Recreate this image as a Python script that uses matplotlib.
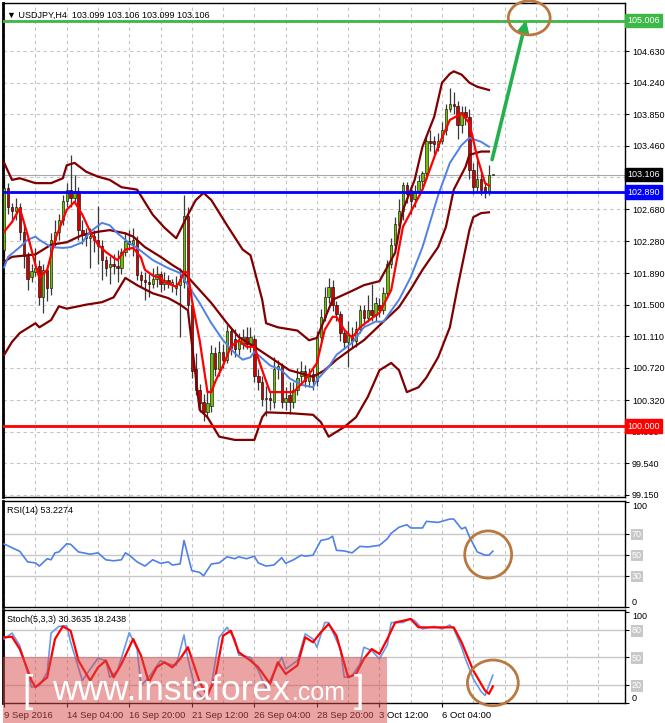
import numpy as np
import matplotlib.pyplot as plt
from matplotlib.patches import Ellipse, Rectangle

plt.rcParams['font.family'] = ['Liberation Sans', 'DejaVu Sans']

# USDJPY H4 candles
opens = [102.18, 102.94, 102.70, 102.66, 102.70, 102.40, 102.10, 101.84, 101.90, 101.98,
         101.60, 101.93, 101.70, 102.30, 102.40, 102.55, 102.78, 102.92, 102.82, 102.90,
         102.42, 102.36, 102.32, 102.35, 102.30, 102.22, 102.05, 101.97, 102.00, 101.98,
         101.95, 102.15, 102.28, 102.25, 102.30, 101.86, 101.80, 101.78, 101.75, 101.82,
         101.88, 101.76, 101.80, 101.74, 101.70, 101.74, 101.78, 102.60, 101.50, 100.70,
         100.45, 100.30, 100.18, 100.25, 100.90, 100.70, 100.92, 100.82, 101.18, 101.08,
         100.95, 101.02, 101.10, 101.02, 101.08, 100.62, 100.55, 100.33, 100.35, 100.30,
         100.70, 100.74, 100.30, 100.38, 100.30, 100.45, 100.62, 100.68, 100.56, 100.64,
         100.56, 101.10, 101.35, 101.60, 101.72, 101.50, 101.38, 101.15, 101.04, 101.12,
         101.05, 101.20, 101.43, 101.33, 101.43, 101.37, 101.50, 101.43, 101.64, 102.00,
         102.24, 102.48, 102.65, 102.98, 102.92, 102.80, 102.90, 103.03, 103.12, 103.52,
         103.52, 103.45, 103.52, 103.65, 103.92, 103.98, 103.95, 103.72, 103.88, 103.82,
         103.16, 102.95, 103.05, 102.95, 102.90, 103.099]
highs = [103.06, 103.00, 102.75, 102.82, 102.75, 102.50, 102.15, 102.00, 102.20, 102.05,
         102.00, 101.98, 102.38, 102.55, 102.62, 102.85, 103.00, 103.35, 103.10, 102.95,
         102.55, 102.45, 102.45, 102.42, 102.72, 102.30, 102.10, 102.10, 102.12, 102.18,
         102.20, 102.40, 102.42, 102.45, 102.35, 101.92, 101.90, 101.88, 101.95, 101.98,
         101.92, 101.90, 101.86, 101.82, 101.85, 101.95, 102.85, 102.70, 101.55, 100.90,
         100.52, 100.40, 100.45, 101.00, 100.98, 101.05, 101.02, 101.25, 101.22, 101.20,
         101.15, 101.20, 101.22, 101.22, 101.12, 100.70, 100.62, 100.50, 100.42, 100.85,
         100.82, 100.78, 100.48, 100.55, 100.55, 100.72, 100.80, 100.75, 100.72, 100.70,
         101.18, 101.45, 101.72, 101.83, 101.80, 101.55, 101.42, 101.20, 101.30, 101.22,
         101.30, 101.50, 101.50, 101.62, 101.75, 101.60, 101.58, 101.72, 102.05, 102.32,
         102.58, 102.80, 103.02, 103.02, 102.98, 102.98, 103.10, 103.15, 103.60, 103.66,
         103.58, 103.62, 103.75, 103.98, 104.17, 104.12, 104.02, 103.95, 103.95, 103.92,
         103.25, 103.28, 103.12, 103.00, 103.22, 103.106]
lows = [102.09, 102.62, 102.52, 102.55, 102.30, 101.95, 101.68, 101.78, 101.85, 101.50,
        101.40, 101.55, 101.62, 102.22, 102.30, 102.48, 102.70, 102.70, 102.75, 102.30,
        102.25, 102.22, 101.95, 102.15, 102.00, 101.80, 101.85, 101.75, 101.88, 101.78,
        101.88, 102.10, 102.18, 102.10, 101.80, 101.72, 101.56, 101.60, 101.70, 101.72,
        101.65, 101.68, 101.70, 101.65, 101.62, 101.10, 101.70, 101.45, 100.60, 100.38,
        100.18, 100.06, 100.10, 100.18, 100.62, 100.62, 100.72, 100.78, 100.88, 100.85,
        100.88, 100.95, 100.95, 100.92, 100.55, 100.45, 100.25, 100.12, 100.20, 100.22,
        100.58, 100.22, 100.20, 100.15, 100.22, 100.38, 100.55, 100.48, 100.48, 100.45,
        100.50, 101.05, 101.30, 101.52, 101.42, 101.30, 101.05, 100.95, 100.73, 100.98,
        100.98, 101.15, 101.25, 101.28, 101.30, 101.30, 101.35, 101.38, 101.58, 101.95,
        102.18, 102.40, 102.55, 102.75, 102.62, 102.70, 102.85, 102.92, 103.05, 103.40,
        103.35, 103.40, 103.48, 103.60, 103.88, 103.85, 103.55, 103.62, 103.72, 103.05,
        102.86, 102.90, 102.85, 102.82, 102.85, 103.099]
closes = [102.94, 102.70, 102.66, 102.70, 102.40, 102.10, 101.82, 101.91, 101.95, 101.60,
          101.93, 101.70, 102.30, 102.40, 102.55, 102.78, 102.92, 102.82, 102.90, 102.42,
          102.36, 102.32, 102.35, 102.30, 102.22, 102.05, 101.95, 102.00, 101.98, 101.95,
          102.15, 102.28, 102.25, 102.30, 101.86, 101.80, 101.78, 101.75, 101.82, 101.88,
          101.76, 101.80, 101.76, 101.78, 101.74, 101.82, 102.60, 101.50, 100.68, 100.45,
          100.28, 100.18, 100.28, 100.90, 100.70, 100.92, 100.82, 101.18, 100.96, 100.95,
          101.05, 101.10, 101.02, 101.10, 100.62, 100.55, 100.33, 100.35, 100.32, 100.70,
          100.74, 100.30, 100.35, 100.30, 100.45, 100.60, 100.68, 100.56, 100.64, 100.56,
          101.10, 101.35, 101.60, 101.72, 101.50, 101.38, 101.15, 101.04, 101.12, 101.05,
          101.20, 101.43, 101.33, 101.43, 101.37, 101.52, 101.43, 101.64, 102.00, 102.24,
          102.50, 102.65, 102.98, 102.86, 102.78, 102.90, 103.03, 103.12, 103.52, 103.50,
          103.48, 103.52, 103.65, 103.92, 103.98, 103.95, 103.72, 103.88, 103.82, 103.16,
          102.95, 103.05, 102.92, 102.90, 103.10, 103.106]

# indicator lines (bar index, value)
bb_up_idx = [0, 2, 4, 8, 12, 15, 16, 18, 21, 24, 27, 30, 34, 38, 41, 44, 47, 49, 51, 53,
             57, 61, 63, 64, 66, 67, 70, 75, 78, 80, 84, 89, 92, 96, 100, 102, 105, 107,
             110, 112, 114, 115, 117, 119, 121, 124]
bb_up = [103.25, 103.04, 103.06, 103.00, 103.00, 103.06, 103.22, 103.25, 103.14, 103.08,
         103.04, 102.95, 102.92, 102.61, 102.45, 102.32, 102.61, 102.79, 102.88, 102.79,
         102.48, 102.18, 102.11, 101.93, 101.56, 101.27, 101.22, 101.18, 101.06, 101.09,
         101.56, 101.67, 101.74, 101.79, 102.14, 102.67, 103.04, 103.45, 103.82, 104.24,
         104.35, 104.38, 104.34, 104.24, 104.19, 104.15]
bb_mid_idx = [0, 2, 8, 12, 16, 20, 24, 27, 31, 33, 36, 40, 43, 45, 47, 50, 53, 57, 60, 64,
              73, 76, 79, 82, 85, 89, 92, 97, 101, 104, 107, 111, 113, 115, 118, 119, 122, 124]
bb_mid = [102.03, 102.09, 102.12, 102.24, 102.27, 102.36, 102.40, 102.42, 102.38, 102.34,
          102.21, 102.09, 101.99, 101.93, 101.84, 101.68, 101.52, 101.27, 101.10, 100.98,
          100.69, 100.65, 100.61, 100.69, 100.82, 100.96, 101.06, 101.29, 101.47, 101.69,
          101.93, 102.21, 102.46, 102.92, 103.20, 103.35, 103.39, 103.39]
bb_lo_idx = [0, 2, 4, 8, 9, 12, 14, 16, 21, 25, 28, 31, 34, 38, 42, 45, 47, 50, 52, 55,
             59, 64, 66, 67, 73, 79, 81, 83, 87, 90, 93, 96, 99, 101, 103, 106, 108, 111,
             114, 116, 119, 120, 122, 124]
bb_lo = [100.88, 101.04, 101.15, 101.27, 101.22, 101.31, 101.48, 101.45, 101.50, 101.53,
         101.59, 101.83, 101.74, 101.64, 101.58, 101.50, 101.43, 100.20, 100.11, 99.87,
         99.83, 99.83, 100.11, 100.17, 100.16, 100.14, 100.05, 99.87, 99.99, 100.11,
         100.36, 100.69, 100.78, 100.69, 100.42, 100.48, 100.60, 100.85, 101.22, 101.72,
         102.42, 102.58, 102.63, 102.64]
ma_blue_idx = [0, 1, 4, 6, 8, 9, 12, 15, 17, 20, 22, 25, 27, 29, 32, 34, 38, 42, 45, 47,
               50, 53, 56, 59, 61, 63, 64, 68, 71, 73, 76, 79, 80, 83, 85, 89, 92, 95, 97,
               101, 104, 107, 111, 114, 117, 119, 122, 124]
ma_blue = [101.96, 102.09, 102.21, 102.30, 102.34, 102.30, 102.21, 102.20, 102.21, 102.27,
           102.40, 102.51, 102.48, 102.38, 102.26, 102.20, 102.05, 101.95, 101.89, 101.74,
           101.52, 101.27, 101.06, 100.90, 100.82, 100.85, 100.92, 100.75, 100.69, 100.59,
           100.51, 100.48, 100.57, 100.73, 100.88, 101.03, 101.22, 101.29, 101.29, 101.56,
           101.84, 102.21, 102.85, 103.25, 103.47, 103.56, 103.51, 103.45]
ma_red_idx = [0, 2, 4, 6, 8, 9, 11, 13, 16, 18, 20, 22, 24, 26, 28, 29, 31, 33, 35, 36,
              38, 40, 41, 44, 45, 46, 47, 48, 50, 52, 53, 54, 56, 58, 60, 62, 64, 66, 68,
              72, 74, 77, 80, 82, 84, 85, 87, 89, 91, 94, 96, 99, 102, 107, 111, 114, 117,
              119, 121, 123, 124]
ma_red = [102.40, 102.52, 102.69, 102.36, 101.99, 101.83, 101.93, 102.30, 102.67, 102.77,
          102.61, 102.40, 102.24, 102.15, 102.08, 102.05, 102.18, 102.20, 102.08, 101.93,
          101.86, 101.83, 101.78, 101.72, 101.79, 101.90, 101.90, 101.56, 101.06, 100.42,
          100.42, 100.55, 100.75, 100.98, 101.06, 100.98, 100.98, 100.69, 100.42, 100.42,
          100.42, 100.57, 100.78, 101.19, 101.35, 101.35, 101.19, 101.09, 101.22, 101.33,
          101.40, 101.68, 102.46, 102.92, 103.45, 103.78, 103.86, 103.74, 103.32, 103.00,
          102.97]

rsi_idx = [0, 4, 6, 8, 9, 11, 12, 13, 14, 16, 17, 19, 22, 24, 26, 28, 30, 31, 32, 34, 36,
           38, 40, 42, 43, 45, 46, 48, 50, 51, 53, 55, 57, 59, 60, 62, 64, 65, 67, 69, 71,
           72, 74, 76, 77, 79, 81, 83, 84, 85, 87, 89, 91, 93, 96, 98, 99, 101, 103, 104,
           107, 108, 111, 114, 115, 117, 118, 119, 121, 123, 124, 125]
rsi_val = [60, 53, 43, 42, 39, 46, 45, 51.6, 52.5, 60.3, 59.7, 52.5, 50.3, 51.6, 45, 44,
           45, 51.6, 49.4, 43, 39, 45, 41.6, 43, 40, 41, 63.4, 34.7, 33, 29.7, 41, 42,
           47.8, 46, 47.8, 46, 48.4, 42, 39, 40, 47, 41.6, 45, 49.4, 48.4, 49.4, 63.4, 65,
           67.5, 54, 53.4, 51.6, 57.8, 57.2, 58.8, 65, 70.3, 76, 78.4, 75.3, 75.3, 81.6,
           80.6, 83.8, 83.8, 74.4, 76, 67, 52.5, 49.4, 49.4, 53.2]

stk_idx = [0, 2, 4, 6, 7, 9, 11, 12, 14, 16, 17, 20, 22, 24, 26, 27, 29, 32, 34, 35, 37,
           40, 42, 44, 46, 47, 49, 51, 53, 55, 57, 59, 60, 63, 65, 67, 69, 71, 72, 75, 77,
           79, 80, 82, 83, 86, 87, 89, 91, 92, 94, 96, 98, 99, 102, 104, 105, 107, 110,
           112, 114, 115, 117, 118, 120, 122, 123, 125]
stk_main = [70, 76.5, 62.7, 33.6, 17.3, 19, 33.6, 76.5, 83.8, 84.5, 66.4, 24.5, 37, 49,
            46.4, 28, 35.5, 77, 59, 19, 28, 46.4, 42.7, 41, 74.4, 48.2, 13.6, 4.5, 19,
            71.8, 82.7, 70, 52.5, 50, 35.5, 15.5, 33.6, 50, 37, 46.4, 75.5, 70, 61, 88,
            88, 59, 28, 30, 42.7, 61, 57.3, 48.2, 63.5, 88, 88, 92.5, 90, 81, 83.8, 81,
            85.3, 81, 61, 48.2, 26.4, 12.5, 8.2, 30.4]
sig_idx = [0, 2, 4, 7, 8, 11, 13, 15, 17, 19, 22, 24, 26, 28, 30, 33, 35, 37, 39, 41, 43,
           45, 47, 50, 52, 54, 56, 58, 60, 63, 65, 68, 70, 72, 75, 77, 79, 81, 83, 85, 88,
           90, 92, 94, 96, 98, 100, 104, 106, 109, 112, 115, 117, 120, 123, 124, 125]
stk_signal = [71.8, 72.5, 59, 24.5, 17.3, 28, 70, 83.8, 79, 46.4, 24.5, 39, 46.4, 28,
              42.7, 70, 51.8, 22.7, 39, 44.5, 39, 48.2, 61, 22.7, 8.2, 28, 73.6, 79, 55.5,
              46.4, 39, 21, 44.5, 31.8, 41, 71.8, 66.4, 77.3, 86.4, 73.6, 28, 31.8, 48.2,
              59, 53.6, 70, 88, 91.8, 82.7, 82.7, 82.7, 82.7, 66.4, 35.5, 13.6, 10, 18.2]

price_ticks = [99.150, 99.540, 99.930, 100.320, 100.720, 101.110, 101.500, 101.890,
               102.280, 102.680, 103.070, 103.460, 103.850, 104.240, 104.630, 105.020]
hidden_ticks = [103.070, 105.020]  # covered by the price boxes in the original
date_idx = [0, 16, 32, 48, 64, 80, 96, 112]
date_labels = ['9 Sep 2016', '14 Sep 04:00', '16 Sep 20:00', '21 Sep 12:00',
               '26 Sep 04:00', '28 Sep 20:00', '3 Oct 12:00', '6 Oct 04:00']

target = 105.006
support = 102.890
bottom_level = 100.000
last_price = 103.106

W, H = 665, 723
fig = plt.figure(figsize=(W / 100, H / 100), dpi=100)
ax = fig.add_axes([3 / W, 1 - 497 / H, 622 / W, 494 / H])
ax_rsi = fig.add_axes([3 / W, 1 - 607 / H, 622 / W, 106 / H])
ax_st = fig.add_axes([3 / W, 1 - 703 / H, 622 / W, 93 / H])

xlim = (-0.3, 158.8)
vgrid = np.arange(0, 158, 8)
brown = '#b87840'

for a in (ax, ax_rsi, ax_st):
    a.set_xlim(*xlim)
    for v in vgrid:
        a.axvline(v, color='#c4c4c4', lw=0.8, ls=(0, (3, 3)), zorder=0)
    for s in a.spines.values():
        s.set_color('black')
        s.set_linewidth(1)
    a.spines['left'].set_linewidth(2)
    a.yaxis.tick_right()
    a.tick_params(axis='y', labelsize=6.5, length=3, pad=2, colors='black')
    a.tick_params(axis='x', length=0)
    a.set_xticks([])

# ---- price panel ----
ax.set_ylim(99.125, 105.224)
ax.set_yticks(price_ticks)
ax.set_yticklabels(['' if t in hidden_ticks else f'{t:.3f}' for t in price_ticks])
for t in price_ticks:
    ax.axhline(t, color='#c4c4c4', lw=0.8, ls=(0, (3, 3)), zorder=0)

idx = np.arange(len(closes))
o = np.array(opens)
c = np.array(closes)
up = c >= o
ax.vlines(idx, lows, highs, color='#3a3a3a', lw=0.9, zorder=2)
body_lo = np.minimum(o, c)
body_h = np.maximum(np.abs(c - o), 0.012)
ax.bar(idx[up], body_h[up], bottom=body_lo[up], width=0.62, color='#6cc000',
       edgecolor='black', lw=0.4, zorder=3)
ax.bar(idx[~up], body_h[~up], bottom=body_lo[~up], width=0.62, color='#d00000',
       edgecolor='black', lw=0.4, zorder=3)

ax.plot(bb_up_idx, bb_up, color='#800000', lw=1.6, zorder=4)
ax.plot(bb_mid_idx, bb_mid, color='#800000', lw=1.6, zorder=4)
ax.plot(bb_lo_idx, bb_lo, color='#800000', lw=1.6, zorder=4)
ax.plot(ma_blue_idx, ma_blue, color='#4f80e8', lw=1.4, zorder=4)
ax.plot(ma_red_idx, ma_red, color='#ff0000', lw=1.6, zorder=5)

ax.axhline(target, color='#3cb846', lw=2, zorder=6)
ax.axhline(support, color='#0000ff', lw=2, zorder=6)
ax.axhline(bottom_level, color='#ff0000', lw=2, zorder=6)
ax.axhline(last_price, color='#a8a8a8', lw=0.8, zorder=1)

ytr = ax.get_yaxis_transform()
for val, col in [(target, '#3cb846'), (last_price, 'black'), (support, '#0000ff'),
                 (bottom_level, '#ff0000')]:
    ax.text(1.003, val, f'{val:.3f}', transform=ytr, ha='left', va='center',
            fontsize=6.5, color='white', clip_on=False, zorder=10,
            bbox=dict(boxstyle='square,pad=0.25', fc=col, ec=col))

ax.annotate('', xy=(133.5, 105.01), xytext=(124.8, 103.29),
            arrowprops=dict(arrowstyle='-|>', color='#22b14c', lw=2.6,
                            mutation_scale=16, shrinkA=0, shrinkB=0), zorder=8)
ax.add_patch(Ellipse((134.3, 105.04), 10.7, 0.42, fill=False, ec=brown, lw=2,
                     clip_on=False, zorder=9))

ax.text(0.006, 0.985, '\u25bc USDJPY,H4  103.099 103.106 103.099 103.106',
        transform=ax.transAxes, ha='left', va='top', fontsize=6.5)

# ---- RSI panel ----
ax_rsi.set_ylim(0, 101)
ax_rsi.plot(rsi_idx, rsi_val, color='#4f80e8', lw=1.2, zorder=3)
for lvl in (30, 50, 70):
    ax_rsi.axhline(lvl, color='#c8c8c8', lw=1, zorder=1)
ax_rsi.set_yticks([0, 30, 50, 70, 100])
ax_rsi.set_yticklabels(['0', '30', '50', '70', '100'])
ax_rsi.add_patch(Ellipse((123.8, 50), 12, 45, fill=False, ec=brown, lw=2, zorder=5))
ax_rsi.text(0.006, 0.95, 'RSI(14) 53.2274', transform=ax_rsi.transAxes,
            ha='left', va='top', fontsize=6.5)

# ---- Stochastic panel ----
ax_st.set_ylim(0, 101.7)
ax_st.plot(stk_idx, stk_main, color='#6a98e8', lw=1.2, zorder=3)
ax_st.plot(sig_idx, stk_signal, color='#ff0000', lw=1.6, zorder=4)
for lvl in (20, 50, 80):
    ax_st.axhline(lvl, color='#c8c8c8', lw=1, zorder=1)
ax_st.set_yticks([0, 20, 50, 80, 100])
ax_st.set_yticklabels(['0', '20', '50', '80', '100'])
ax_st.add_patch(Ellipse((125, 22), 13, 50, fill=False, ec=brown, lw=2,
                        clip_on=False, zorder=5))
ax_st.text(0.006, 0.95, 'Stoch(5,3,3) 30.3635 18.2438', transform=ax_st.transAxes,
           ha='left', va='top', fontsize=6.5)

for a, levels in ((ax_rsi, ('30', '50', '70')), (ax_st, ('20', '50', '80'))):
    for lab in a.get_yticklabels():
        txt = lab.get_text()
        if txt in levels:
            lab.set_color('white')
            lab.set_bbox(dict(boxstyle='square,pad=0.15', fc='#c8c8c8', ec='none'))
        elif txt == '0':
            lab.set_va('bottom')
        elif txt == '100':
            lab.set_va('top')

ax_st.set_xticks(date_idx)
ax_st.set_xticklabels(date_labels)
ax_st.tick_params(axis='x', length=3, labelsize=6.8, pad=3)
for lab in ax_st.get_xticklabels():
    lab.set_ha('left')

# watermark
fig.patches.append(Rectangle((3 / W, 0), 384 / W, 66 / H, transform=fig.transFigure,
                             fc='#d84a4a', ec='none', alpha=0.5, zorder=20))
wm = dict(color='white', va='baseline', zorder=21, family='Liberation Sans')
fig.text(22 / W, 1 - 702 / H, '[', fontsize=27, **wm)
fig.text(52 / W, 1 - 700 / H, 'www.instaforex', fontsize=25.5, **wm)
fig.text(292 / W, 1 - 700 / H, '.com', fontsize=18, **wm)
fig.text(354 / W, 1 - 702 / H, ']', fontsize=27, **wm)

fig.savefig('out.png', dpi=100, facecolor='white')
